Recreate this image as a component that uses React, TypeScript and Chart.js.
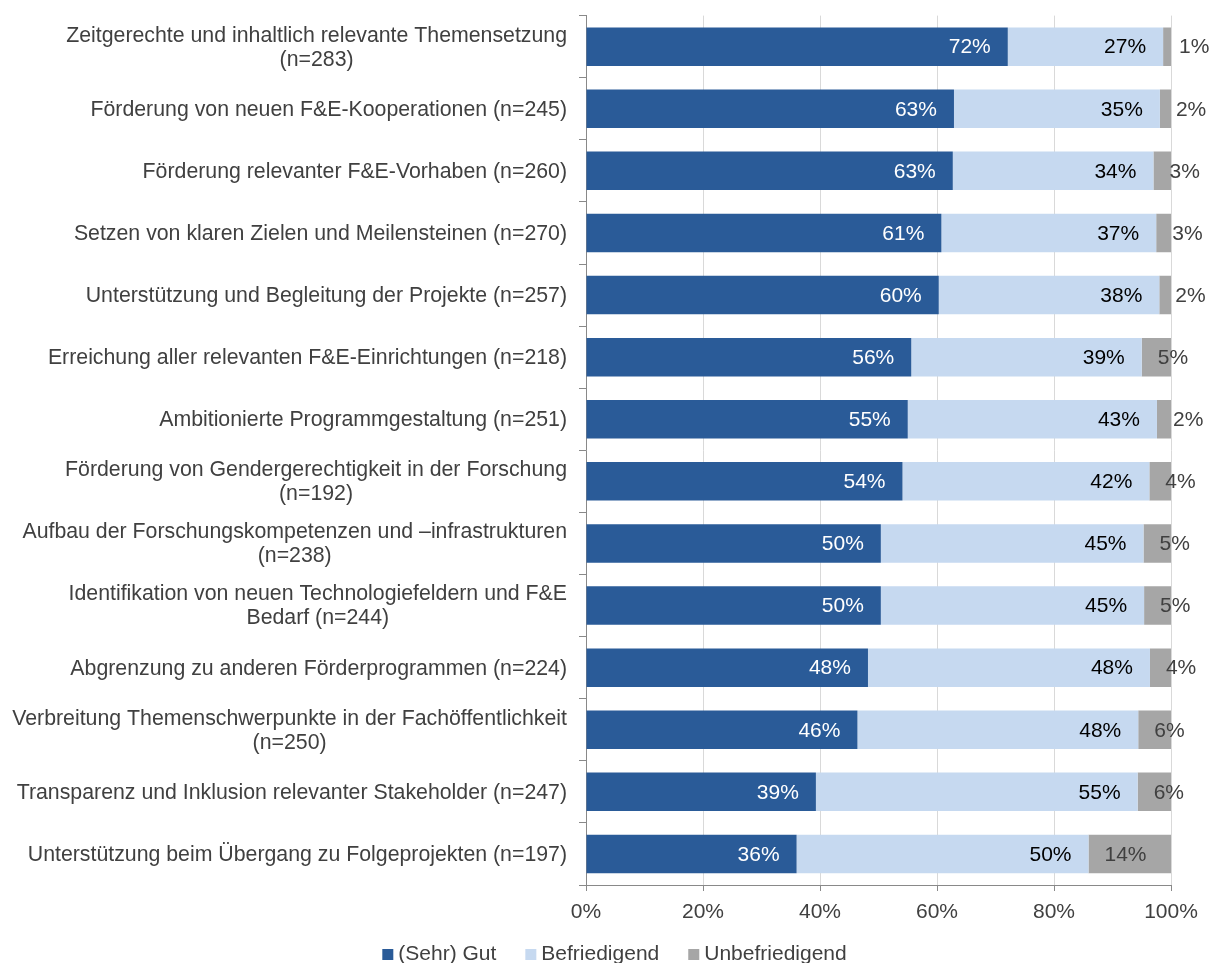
import React, { useEffect, useRef } from "react";
import { Chart, registerables } from "chart.js";

Chart.register(...registerables);

const categories: string[][] = [
  ["Zeitgerechte und inhaltlich relevante Themensetzung", "(n=283)"],
  ["Förderung von neuen F&E-Kooperationen (n=245)"],
  ["Förderung relevanter F&E-Vorhaben (n=260)"],
  ["Setzen von klaren Zielen und Meilensteinen (n=270)"],
  ["Unterstützung und Begleitung der Projekte (n=257)"],
  ["Erreichung aller relevanten F&E-Einrichtungen (n=218)"],
  ["Ambitionierte Programmgestaltung (n=251)"],
  ["Förderung von Gendergerechtigkeit in der Forschung", "(n=192)"],
  ["Aufbau der Forschungskompetenzen und –infrastrukturen", "(n=238)"],
  ["Identifikation von neuen Technologiefeldern und F&E", "Bedarf (n=244)"],
  ["Abgrenzung zu anderen Förderprogrammen (n=224)"],
  ["Verbreitung Themenschwerpunkte in der Fachöffentlichkeit", "(n=250)"],
  ["Transparenz und Inklusion relevanter Stakeholder (n=247)"],
  ["Unterstützung beim Übergang zu Folgeprojekten (n=197)"],
];

const seriesNames = ["(Sehr) Gut", "Befriedigend", "Unbefriedigend"];
const gut = [72.1, 62.9, 62.7, 60.75, 60.3, 55.6, 55.0, 54.1, 50.4, 50.4, 48.2, 46.4, 39.3, 36.0];
const befriedigend = [26.55, 35.2, 34.3, 36.72, 37.7, 39.4, 42.6, 42.2, 44.9, 45.0, 48.2, 48.0, 55.0, 49.9];
const unbefriedigend = [1.35, 1.9, 3.0, 2.53, 2.0, 5.0, 2.4, 3.7, 4.7, 4.6, 3.6, 5.6, 5.7, 14.1];
const xTicks = [0, 20, 40, 60, 80, 100];

const COLORS = ["#2A5B98", "#C6D9F0", "#A6A6A6"];
const FONT = "'Liberation Sans', Arial, sans-serif";
const FS = 21;
const CAT_FS = 21.3;
const LH = 24;
const TEXT = "#404040";
const AXIS = "#898989";

const drawPlugin = {
  id: "customText",
  afterDraw(chart: any) {
    const ctx = chart.ctx as CanvasRenderingContext2D;
    const yScale = chart.scales.y;
    ctx.save();
    ctx.textBaseline = "middle";

    // category labels (block right-aligned, lines centered)
    ctx.font = `${CAT_FS}px ${FONT}`;
    ctx.fillStyle = TEXT;
    ctx.textAlign = "center";
    categories.forEach((lines, i) => {
      const cy = yScale.getPixelForValue(i) + 1;
      const w = Math.max(...lines.map((l) => ctx.measureText(l).width));
      const cx = yScale.right - 19 - w / 2;
      const n = lines.length;
      lines.forEach((l, k) => ctx.fillText(l, cx, cy + (k - (n - 1) / 2) * LH));
    });

    // data labels
    ctx.font = `${FS}px ${FONT}`;
    chart.data.datasets.forEach((ds: any, di: number) => {
      const meta = chart.getDatasetMeta(di);
      meta.data.forEach((bar: any, i: number) => {
        const v = ds.data[i] as number;
        const t = Math.round(v) + "%";
        const p = bar.getProps(["x", "base", "y"], true);
        if (di < 2) {
          ctx.textAlign = "right";
          ctx.fillStyle = di === 0 ? "#FFFFFF" : "#000000";
          ctx.fillText(t, p.x - 17, p.y + 1);
        } else {
          ctx.textAlign = "left";
          ctx.fillStyle = TEXT;
          ctx.fillText(t, p.base + 16, p.y + 1);
        }
      });
    });

    // legend
    ctx.textBaseline = "alphabetic";
    ctx.textAlign = "left";
    const box = 11;
    const gapText = 5;
    const gapItem = 29;
    const widths = chart.data.datasets.map((ds: any) => ctx.measureText(ds.label).width);
    const total =
      widths.reduce((a: number, b: number) => a + b, 0) +
      widths.length * (box + gapText) +
      (widths.length - 1) * gapItem;
    let x = chart.width / 2 + 9 - total / 2;
    const baseY = 960;
    chart.data.datasets.forEach((ds: any, di: number) => {
      ctx.fillStyle = ds.backgroundColor;
      ctx.fillRect(x, baseY - box, box, box);
      x += box + gapText;
      ctx.fillStyle = TEXT;
      ctx.fillText(ds.label, x, baseY);
      x += widths[di] + gapItem;
    });
    ctx.restore();
  },
};

export default function App() {
  const ref = useRef<HTMLCanvasElement | null>(null);

  useEffect(() => {
    if (!ref.current) return;
    const chart = new Chart(ref.current, {
      type: "bar",
      data: {
        labels: categories,
        datasets: [gut, befriedigend, unbefriedigend].map((d, i) => ({
          label: seriesNames[i],
          data: d,
          backgroundColor: COLORS[i],
          borderWidth: 0,
          barPercentage: 0.62,
          categoryPercentage: 1,
        })),
      },
      options: {
        indexAxis: "y",
        responsive: false,
        animation: false,
        layout: { padding: { top: 15, right: 40, bottom: 28, left: 0 } },
        plugins: {
          legend: { display: false },
          tooltip: { enabled: false },
        },
        scales: {
          x: {
            stacked: true,
            min: 0,
            max: 100,
            afterBuildTicks: (s: any) => {
              s.ticks = xTicks.map((v) => ({ value: v }));
            },
            afterFit: (s: any) => {
              s.height = 50;
            },
            ticks: {
              callback: (v: any) => v + "%",
              color: TEXT,
              font: { family: FONT, size: FS },
              padding: 9,
              maxRotation: 0,
            },
            grid: { color: "#D9D9D9", tickColor: AXIS, tickLength: 6, lineWidth: 1 },
            border: { color: AXIS, width: 1 },
          },
          y: {
            stacked: true,
            afterFit: (s: any) => {
              s.width = 586;
            },
            ticks: { callback: () => "", font: { family: FONT, size: FS } },
            grid: { drawOnChartArea: false, color: AXIS, tickLength: 7 },
            border: { color: AXIS, width: 1 },
          },
        },
      },
      plugins: [drawPlugin],
    });
    return () => chart.destroy();
  }, []);

  return (
    <div
      style={{
        position: "fixed",
        left: 0,
        top: 0,
        width: 1211,
        height: 963,
        overflow: "hidden",
        background: "#fff",
      }}
    >
      <canvas ref={ref} width={1211} height={963} style={{ display: "block" }} />
    </div>
  );
}
